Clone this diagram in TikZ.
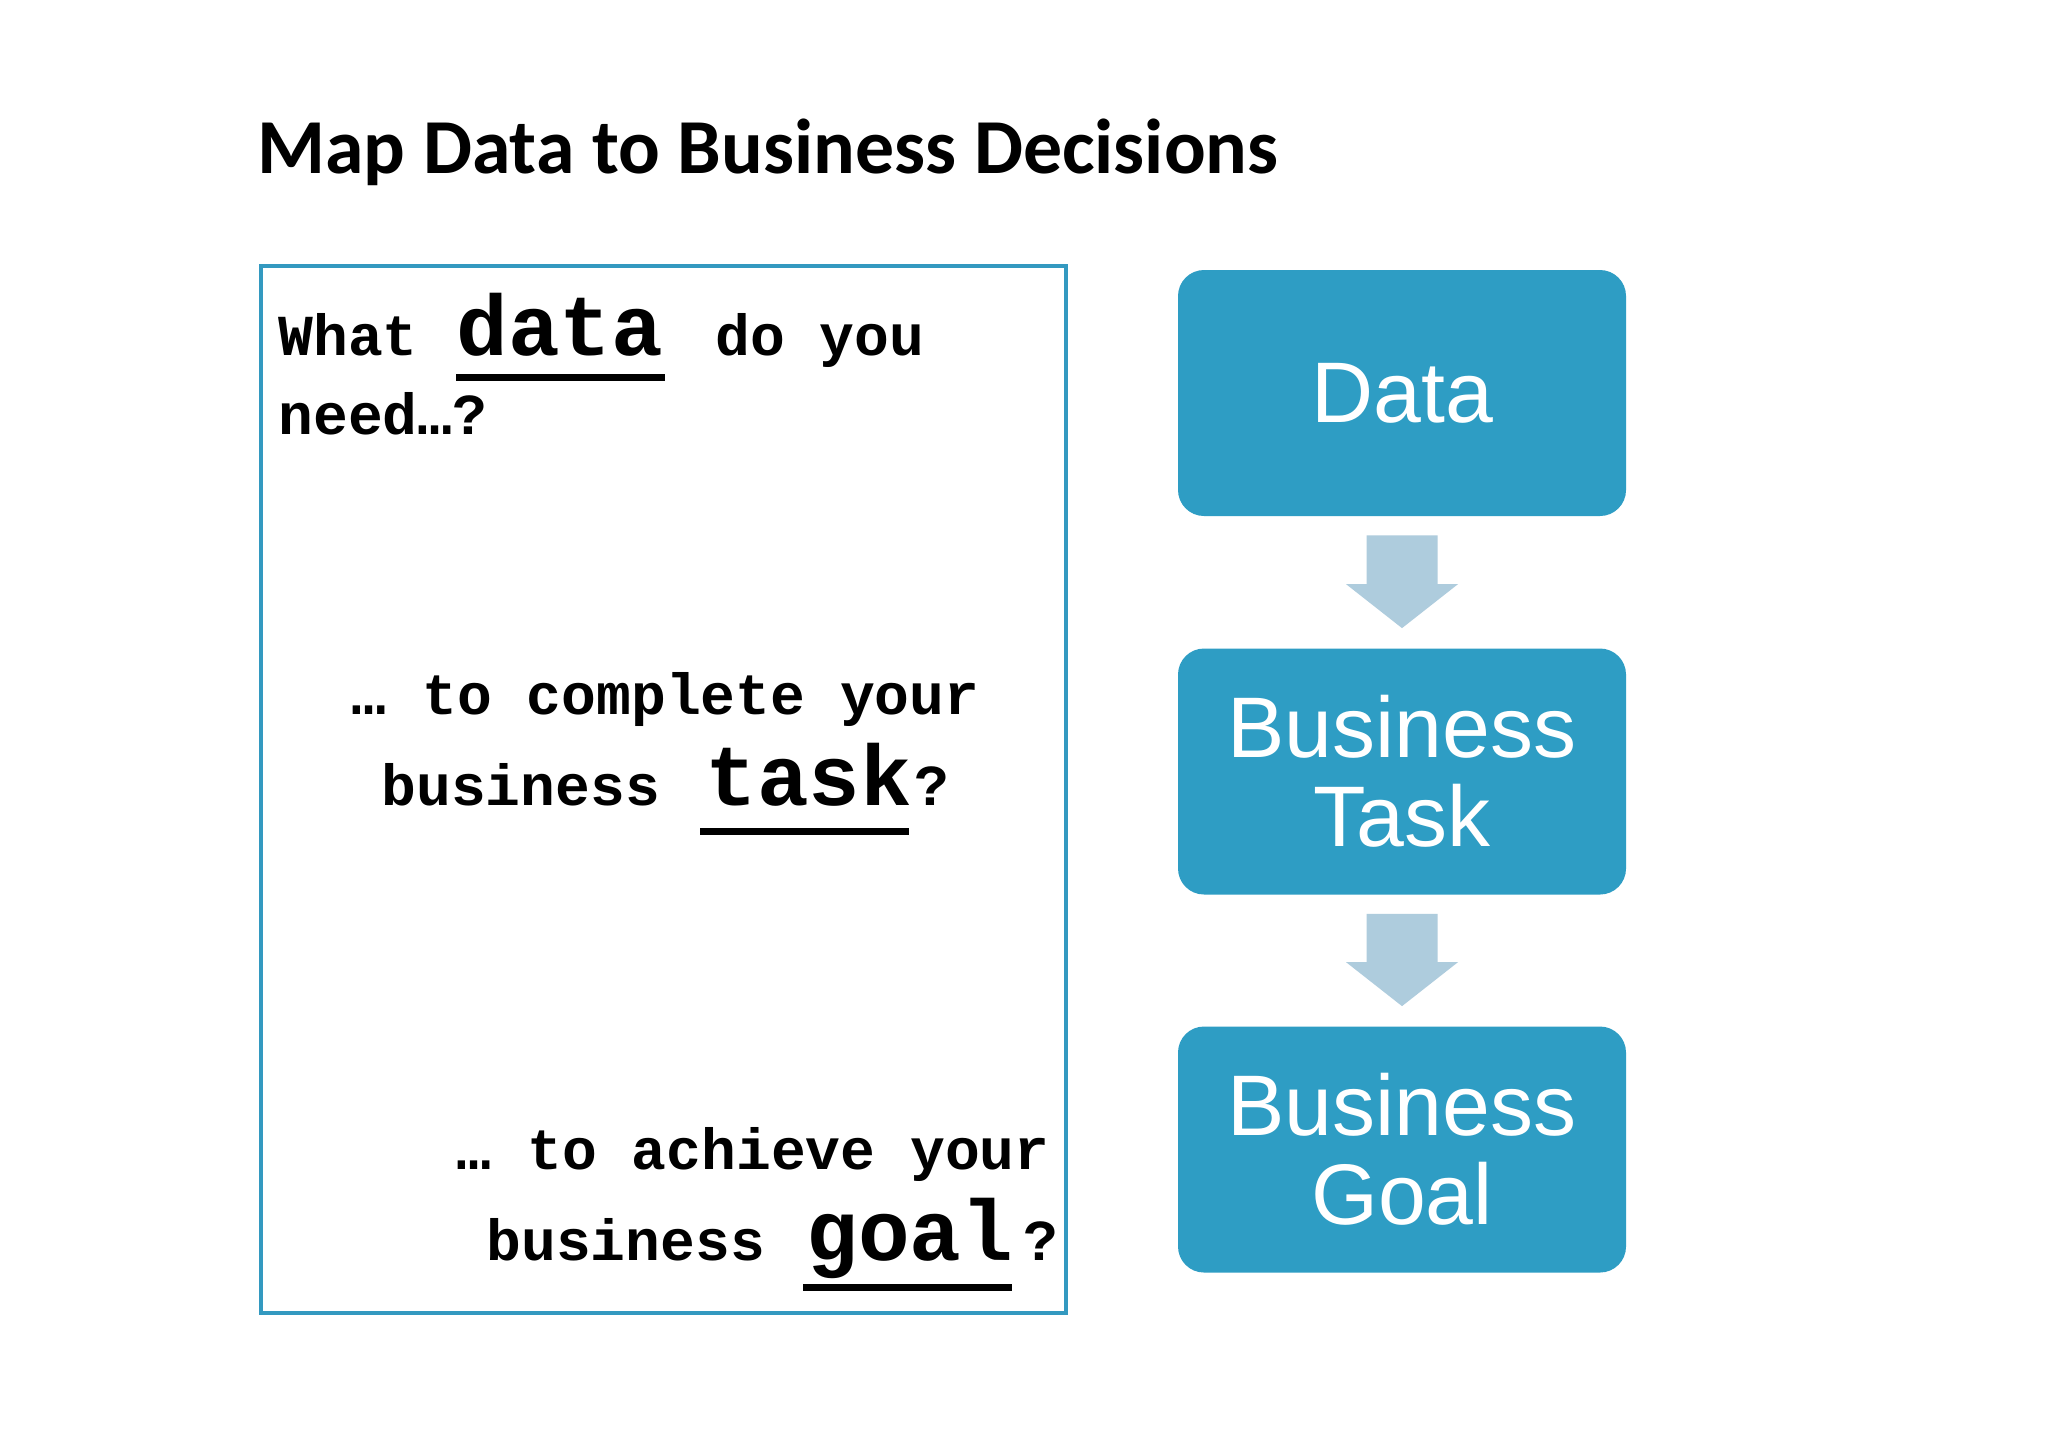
\documentclass[tikz,border=0pt]{standalone}
\usepackage{fontspec}
\setmainfont{Liberation Sans}
\newfontfamily\titlefont{Carlito}
\newfontfamily\monofont{Liberation Mono}
\usetikzlibrary{calc}
\definecolor{boxblue}{RGB}{46,157,196}
\definecolor{arrowblue}{RGB}{174,204,221}
\definecolor{frameblue}{RGB}{51,153,192}
\begin{document}
\begin{tikzpicture}[x=0.5pt,y=-0.5pt,
  small/.style={inner sep=0pt, anchor=base west, font=\monofont\bfseries\fontsize{29}{30}\selectfont},
  big/.style={inner sep=0pt, anchor=base west, font=\monofont\bfseries\fontsize{43}{44}\selectfont},
  flowbox/.style={draw=none, fill=boxblue, rounded corners=13pt, minimum width=224pt, minimum height=123pt, text=white, align=center, font=\fontsize{43}{44.5}\selectfont, inner sep=0pt},
  flowarrow/.style={fill=arrowblue, draw=none},
  uline/.style={fill=black}]
\useasboundingbox[fill=white] (0,0) rectangle (2048,1448);

% title
\node[anchor=base west, inner sep=0pt, font=\titlefont\bfseries\fontsize{38.9}{40}\selectfont] (title) at (257,173.7) {Map Data to Business Decisions};

% left frame
\node[draw=frameblue, line width=2pt, minimum width=402.5pt, minimum height=523.5pt, inner sep=0pt] (frame) at (663.5,789.5) {};

% left text
\node[small] (l1a) at (278,355) {What};
\node[big]   (l1b) at (456,355) {data};
\node[small] (l1c) at (715,355) {do you};
\node[small] (l1d) at (278,434) {need…?};
\fill[uline] ($(l1b.base west)+(0,18.5)$) rectangle +(209,7);

\node[small] (l2a) at (351,714.4) {…};
\node[small] (l2b) at (422,714.4) {to complete your};
\node[small] (l3a) at (381,805.8) {business};
\node[big]   (l3b) at (705,805.8) {task};
\node[small] (l3c) at (914,805.8) {?};
\fill[uline] ($(l3b.base west)+(-5,22)$) rectangle +(209,7.5);

\node[small] (l4a) at (456,1169) {…};
\node[small] (l4b) at (527,1169) {to achieve your};
\node[small] (l5a) at (486,1260) {business};
\node[big]   (l5b) at (806,1260) {goal};
\node[small] (l5c) at (1022.6,1260) {?};
\fill[uline] ($(l5b.base west)+(-3,24)$) rectangle +(209,7);

% flow boxes
\node[flowbox] (data) at (1402,393) {Data};
\node[flowbox] (task) at (1402,771.5) {Business\\Task};
\node[flowbox] (goal) at (1402,1149.5) {Business\\Goal};

% block arrows
\coordinate (a1s) at ($(data.south)+(0,19)$);
\coordinate (a1e) at ($(task.north)+(0,-20)$);
\coordinate (a1h) at ($(a1e)+(0,-44)$);
\fill[flowarrow] ($(a1s)+(-35.5,0)$) -- ($(a1s)+(35.5,0)$) -- ($(a1h)+(35.5,0)$) -- ($(a1h)+(56,0)$) -- (a1e) -- ($(a1h)+(-56,0)$) -- ($(a1h)+(-35.5,0)$) -- cycle;

\coordinate (a2s) at ($(task.south)+(0,19)$);
\coordinate (a2e) at ($(goal.north)+(0,-20)$);
\coordinate (a2h) at ($(a2e)+(0,-44)$);
\fill[flowarrow] ($(a2s)+(-35.5,0)$) -- ($(a2s)+(35.5,0)$) -- ($(a2h)+(35.5,0)$) -- ($(a2h)+(56,0)$) -- (a2e) -- ($(a2h)+(-56,0)$) -- ($(a2h)+(-35.5,0)$) -- cycle;
\end{tikzpicture}
\end{document}
